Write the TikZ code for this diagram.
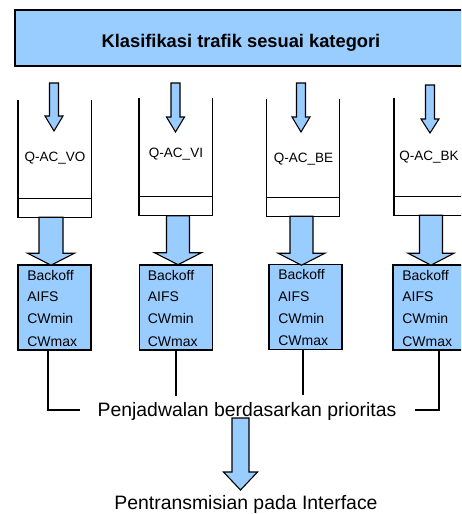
\documentclass[tikz,border=0pt]{standalone}
\usepackage{fontspec}
\setmainfont{Liberation Sans}
\usetikzlibrary{calc}
\definecolor{abox}{HTML}{99CCFF}
\newcommand\blkarrow[5]{% #1 top centre, #2 length, #3 shaft half width, #4 head half width, #5 head length
  \filldraw[barrow] (#1) ++(-#3,0) -- ++(2*#3,0) -- ++(0,#2-#5) -- ++(#4-#3,0)
    -- ++(-#4,#5) -- ++(-#4,-#5) -- ++(#4-#3,0) -- cycle;}
\begin{document}
\begin{tikzpicture}[x=1pt,y=-1pt,
  barrow/.style={fill=abox,draw=black,line width=1.1pt,line join=miter},
  topbox/.style={draw=black,fill=abox,line width=2pt,minimum width=452pt,minimum height=56pt,inner sep=0pt},
  queue/.style={minimum width=73pt,minimum height=117pt,inner sep=0pt},
  qline/.style={line width=1.4pt},
  qlabel/.style={anchor=base,font=\fontsize{13.5}{16}\selectfont},
  parbox/.style={draw=black,fill=abox,line width=1.8pt,minimum width=73pt,minimum height=85pt,inner sep=0pt},
  partext/.style={anchor=base west,inner sep=0pt,font=\fontsize{14}{16}\selectfont},
  conn/.style={line width=1.5pt},
  bigtext/.style={anchor=base,inner sep=0pt,font=\fontsize{19.4}{22}\selectfont}]
\clip (0,0) rectangle (461,514);
% top box
\node[topbox] (top) at (241,38) {};
\node[anchor=base,font=\fontsize{18.3}{22}\selectfont\bfseries] (toptext) at (241,47) {Klasifikasi trafik sesuai kategori};
% queues
\node[queue] (q1) at (54.5,158.5) {};
\node[queue] (q2) at (175.5,157) {};
\node[queue] (q3) at (303,157.5) {};
\node[queue] (q4) at (430.5,156.5) {};
\foreach \q in {q1,q2,q3,q4}{
  \draw[qline] (\q.north west) -- (\q.south west) -- (\q.south east) -- (\q.north east);
  \draw[qline] ($(\q.south west)+(0,-19)$) -- ($(\q.south east)+(0,-19)$);
}
\node[qlabel] (l1) at (55,161) {Q-AC\_VO};
\node[qlabel] (l2) at (176,157) {Q-AC\_VI};
\node[qlabel] (l3) at (303.5,162) {Q-AC\_BE};
\node[qlabel] (l4) at (429,160) {Q-AC\_BK};
% small input arrows
\coordinate (a1) at (54,83);
\coordinate (a2) at (175.5,83);
\coordinate (a3) at (301,83);
\coordinate (a4) at (430,85);
\blkarrow{a1}{48}{4.5}{9}{15}
\blkarrow{a2}{49}{4.5}{9}{15}
\blkarrow{a3}{49}{4.5}{9}{15}
\blkarrow{a4}{48}{4.5}{9}{14}
% parameter boxes
\node[parbox] (p1) at (54.5,307.5) {};
\node[parbox] (p2) at (176,307.5) {};
\node[parbox] (p3) at (305.5,307) {};
\node[parbox] (p4) at (429.5,307.5) {};
\foreach \p/\dx in {p1/10,p2/9,p3/10,p4/10}{
  \node[partext] at ($(\p.north west)+(\dx,16)$) {Backoff};
  \node[partext] at ($(\p.north west)+(\dx,37.5)$) {AIFS};
  \node[partext] at ($(\p.north west)+(\dx,59.5)$) {CWmin};
  \node[partext] at ($(\p.north west)+(\dx,82)$) {CWmax};
}
% big arrows queue -> box
\coordinate (b1) at ($(q1.south)+(-3.5,0)$);
\coordinate (b2) at ($(q2.south)+(2.5,0)$);
\coordinate (b3) at ($(q3.south)+(-1.5,0)$);
\coordinate (b4) at ($(q4.south)+(0.5,0)$);
\blkarrow{b1}{48}{12}{23.5}{12}
\blkarrow{b2}{49}{11.5}{23.5}{12}
\blkarrow{b3}{49}{11.5}{23.5}{12}
\blkarrow{b4}{50}{11.5}{23}{12}
% scheduler
\node[bigtext] (sched) at (247,416) {Penjadwalan berdasarkan prioritas};
\coordinate (sl) at (80,410);
\coordinate (sr) at (415,410);
\draw[conn] ($(p1.south)+(-6.5,0)$) |- (sl);
\draw[conn] (p2.south) -- ++(0,45);
\draw[conn] ($(p3.south)+(-2.5,0)$) -- ++(0,45);
\draw[conn] ($(p4.south)+(9.5,0)$) |- (sr);
% output
\coordinate (o) at (240.5,418);
\blkarrow{o}{72}{8.5}{17}{18}
\node[bigtext] (out) at (246,509) {Pentransmisian pada Interface};
\end{tikzpicture}
\end{document}
